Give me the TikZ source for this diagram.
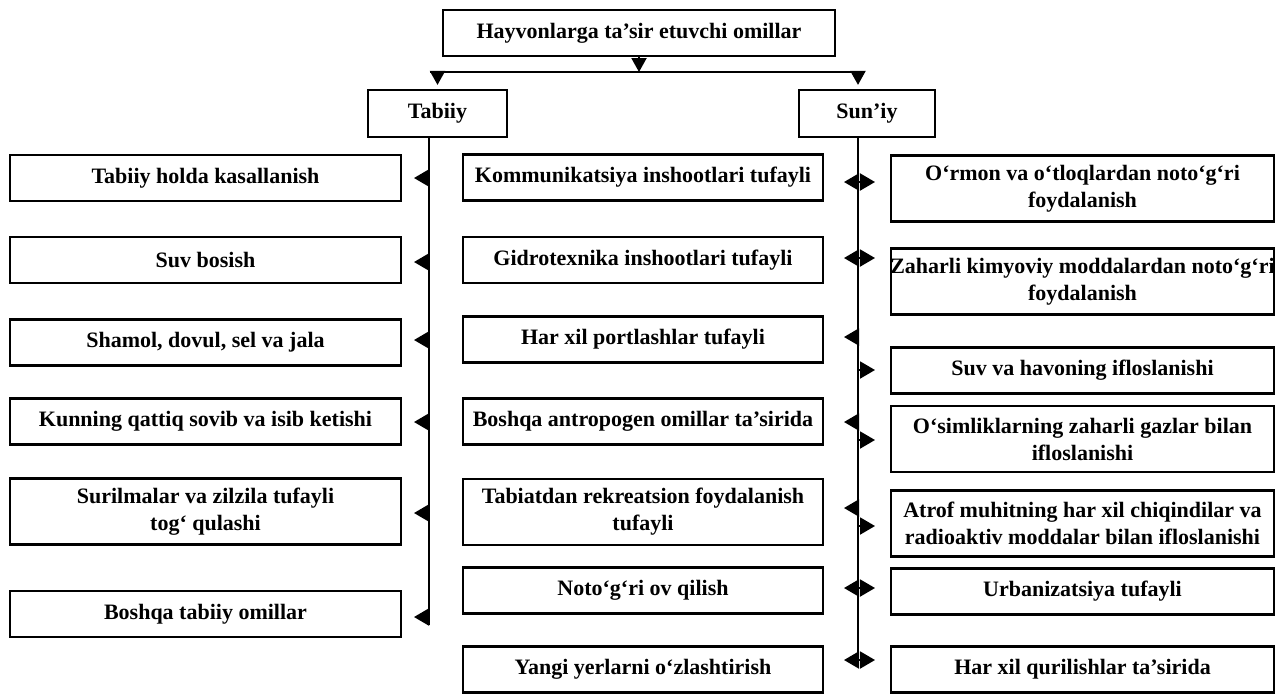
\documentclass[tikz,border=0pt]{standalone}
\usepackage{fontspec}
\setmainfont{Liberation Serif}
\usetikzlibrary{arrows.meta,positioning}
\tikzset{
  box/.style={
    rectangle,
    draw=black,
    line width=1.1pt,
    align=center,
    inner sep=1pt,
    font=\fontsize{11}{13.5}\selectfont\bfseries
  },
  leftbox/.style={box, minimum width=195.5pt},
  midbox/.style={box, minimum width=180pt},
  rightbox/.style={box, minimum width=191.5pt},
  onerow/.style={minimum height=23pt},
  tworow/.style={minimum height=33pt},
  spine/.style={line width=1pt},
  tri/.style={
    -{Triangle[length=7pt,width=7.5pt]},
    line width=1pt
  },
  sidetri/.style={
    -{Triangle[length=7.5pt,width=8.5pt]},
    line width=1pt
  }
}

\begin{document}
\begin{tikzpicture}[x=0.5pt, y=-0.5pt]
  \useasboundingbox (0,0) rectangle (1280,693);

  % top of the tree
  \node[box, minimum width=196pt, minimum height=23pt] (title) at (639,33) {Hayvonlarga ta’sir etuvchi omillar};
  \node[box, minimum width=69.5pt, minimum height=23.5pt] (tabiiy) at (437.5,113.5) {Tabiiy};
  \node[box, minimum width=68pt, minimum height=23.5pt] (suniy) at (867,113.5) {Sun’iy};

  \coordinate (jleft) at (430,72);
  \coordinate (jright) at (865,72);
  \coordinate (lspine) at (429,625);
  \coordinate (rspine) at (858,660);

  \draw[spine] (jleft) -- (jright);
  \draw[tri] (title.south) -- (title.south |- jleft);
  \draw[tri] (tabiiy.north |- jleft) -- ([yshift=2pt]tabiiy.north);
  \draw[tri] (rspine |- jleft) -- ([yshift=2pt]rspine |- suniy.north);

  % natural factors
  \node[leftbox, onerow] (lk1) at (205.5,178) {Tabiiy holda kasallanish};
  \node[leftbox, onerow] (lk2) at (205.5,260) {Suv bosish};
  \node[leftbox, onerow] (lk3) at (205.5,342.5) {Shamol, dovul, sel va jala};
  \node[leftbox, onerow] (lk4) at (205.5,421.5) {Kunning qattiq sovib va isib ketishi};
  \node[leftbox, tworow] (lk5) at (205.5,511.5) {Surilmalar va zilzila tufayli\\tog‘ qulashi};
  \node[leftbox, onerow] (lk6) at (205.5,614) {Boshqa tabiiy omillar};

  % man-made factors, middle column
  \node[midbox, onerow] (mk1) at (643,177.5) {Kommunikatsiya inshootlari tufayli};
  \node[midbox, onerow] (mk2) at (643,260) {Gidrotexnika inshootlari tufayli};
  \node[midbox, onerow] (mk3) at (643,339.5) {Har xil portlashlar tufayli};
  \node[midbox, onerow] (mk4) at (643,421.5) {Boshqa antropogen omillar ta’sirida};
  \node[midbox, tworow] (mk5) at (643,512) {Tabiatdan rekreatsion foydalanish\\tufayli};
  \node[midbox, onerow] (mk6) at (643,590.5) {Noto‘g‘ri ov qilish};
  \node[midbox, onerow] (mk7) at (643,669.5) {Yangi yerlarni o‘zlashtirish};

  % man-made factors, right column
  \node[rightbox, tworow] (rk1) at (1082.5,188.5) {O‘rmon va o‘tloqlardan noto‘g‘ri\\foydalanish};
  \node[rightbox, tworow] (rk2) at (1082.5,281.5) {\makebox[188pt]{Zaharli kimyoviy moddalardan noto‘g‘ri}\\foydalanish};
  \node[rightbox, onerow] (rk3) at (1082.5,370.5) {Suv va havoning ifloslanishi};
  \node[rightbox, tworow] (rk4) at (1082.5,439) {O‘simliklarning zaharli gazlar bilan\\ifloslanishi};
  \node[rightbox, tworow] (rk5) at (1082.5,523.5) {Atrof muhitning har xil chiqindilar va\\radioaktiv moddalar bilan ifloslanishi};
  \node[rightbox, onerow] (rk6) at (1082.5,591.5) {Urbanizatsiya tufayli};
  \node[rightbox, onerow] (rk7) at (1082.5,669.5) {Har xil qurilishlar ta’sirida};

  % spines with their arrow heads
  \draw[spine] (lspine |- tabiiy.south) -- (lspine);
  \draw[spine] (rspine |- suniy.south) -- (rspine);
  \foreach \y in {178,262,340,422,513,617}
    \draw[sidetri] (lspine |- 0,\y) -- ++(-15,0);
  \foreach \y in {182,258,337,422,508,588,660}
    \draw[sidetri] (rspine |- 0,\y) -- ++(-14,0);
  \foreach \y in {182,258,370,440,526,588,660}
    \draw[sidetri] (rspine |- 0,\y) -- ++(17,0);
\end{tikzpicture}
\end{document}
